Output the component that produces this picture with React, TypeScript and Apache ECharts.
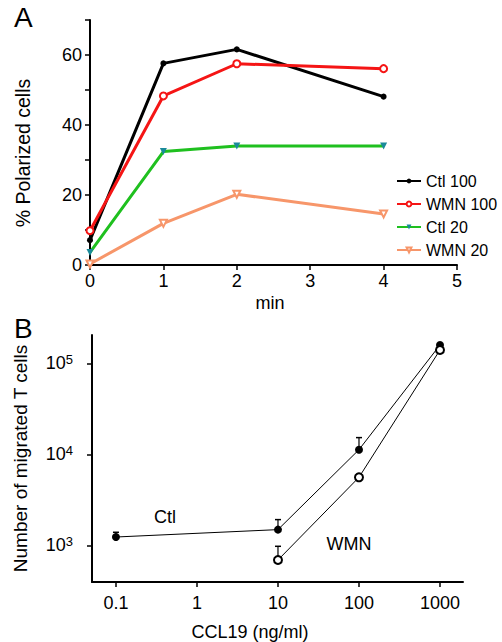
import React, { useEffect, useRef } from "react";
import * as echarts from "echarts";

// Panel A: % polarized cells over time (min)
const timeMin = [0, 1, 2, 4];
const ctl100 = [7.1, 57.6, 61.6, 48.1];
const wmn100 = [9.8, 48.3, 57.5, 56.1];
const ctl20 = [3.6, 32.4, 34.0, 34.0];
const wmn20 = [0.3, 11.9, 20.2, 14.6];
const seriesNamesA = ["Ctl 100", "WMN 100", "Ctl 20", "WMN 20"];

// Panel B: number of migrated T cells vs CCL19 (ng/ml)
const cclCtl = [0.1, 10, 100, 1000];
const ctlMigrated = [1233, 1487, 11240, 158900];
const ctlErrUpper = [1390, 1915, 15250, null];
const cclWmn = [10, 100, 1000];
const wmnMigrated = [689, 5585, 140000];
const wmnErrUpper = [975, null, null];
const concTicks = [0.1, 1, 10, 100, 1000];
const countTicks = [1000, 10000, 100000];

const FONT = "Liberation Sans";

export default function App() {
  const ref = useRef<HTMLDivElement>(null);
  useEffect(() => {
    if (!ref.current) return;
    const chart = echarts.init(ref.current, undefined, { renderer: "svg" });

    const axisLine = { show: true, lineStyle: { color: "#000", width: 2 } };
    const axisTick = { show: true, inside: false, length: 5, lineStyle: { color: "#000", width: 1.5 } };
    const labelStyle = { color: "#000", fontSize: 18, fontFamily: FONT };

    const errData: number[][] = [];
    cclCtl.forEach((c, i) => {
      const u = ctlErrUpper[i];
      if (u != null) errData.push([c, ctlMigrated[i], u]);
    });
    cclWmn.forEach((c, i) => {
      const u = wmnErrUpper[i];
      if (u != null) errData.push([c, wmnMigrated[i], u]);
    });

    const option: any = {
      animation: false,
      backgroundColor: "#fff",
      textStyle: { fontFamily: FONT },
      grid: [
        { left: 90, top: 20, width: 367, height: 245, containLabel: false },
        { left: 92, top: 335, width: 371, height: 247, containLabel: false },
      ],
      xAxis: [
        {
          gridIndex: 0,
          type: "value",
          min: 0,
          max: 5,
          interval: 1,
          axisLine,
          axisTick,
          splitLine: { show: false },
          axisLabel: { ...labelStyle, margin: 7 },
        },
        {
          gridIndex: 1,
          type: "log",
          logBase: 10,
          min: 0.0506,
          max: 1923,
          axisLine,
          axisTick: { ...axisTick, customValues: concTicks },
          splitLine: { show: false },
          axisLabel: {
            ...labelStyle,
            margin: 12,
            customValues: concTicks,
            formatter: (v: number) => String(v),
          },
        },
      ],
      yAxis: [
        {
          gridIndex: 0,
          type: "value",
          min: 0,
          max: 70,
          interval: 10,
          axisLine,
          axisTick,
          splitLine: { show: false },
          axisLabel: {
            ...labelStyle,
            margin: 8,
            formatter: (v: number) => (v % 20 === 0 ? String(v) : ""),
          },
        },
        {
          gridIndex: 1,
          type: "log",
          logBase: 10,
          min: 395,
          max: 204600,
          axisLine,
          axisTick: { ...axisTick, customValues: countTicks },
          splitLine: { show: false },
          axisLabel: {
            ...labelStyle,
            margin: 19,
            customValues: countTicks,
            formatter: (v: number) => `{b|10}{s|${Math.round(Math.log10(v))}}`,
            rich: {
              b: { fontSize: 18, fontFamily: FONT, color: "#000" },
              s: { fontSize: 13, fontFamily: FONT, color: "#000", padding: [0, 0, 8, 0] },
            },
          },
          name: "Number of migrated T cells",
          nameLocation: "middle",
          nameGap: 62,
          nameTextStyle: { color: "#000", fontSize: 19, fontFamily: FONT },
        },
      ],
      legend: {
        data: seriesNamesA,
        orient: "vertical",
        left: 391,
        top: 168,
        itemWidth: 24,
        itemHeight: 6,
        itemGap: 7,
        textStyle: { color: "#000", fontSize: 16, fontFamily: FONT },
      },
      series: [
        {
          name: "Ctl 100",
          type: "line",
          xAxisIndex: 0,
          yAxisIndex: 0,
          data: timeMin.map((t, i) => [t, ctl100[i]]),
          symbol: "circle",
          symbolSize: 6,
          lineStyle: { color: "#000", width: 3 },
          itemStyle: { color: "#000" },
        },
        {
          name: "WMN 100",
          type: "line",
          xAxisIndex: 0,
          yAxisIndex: 0,
          data: timeMin.map((t, i) => [t, wmn100[i]]),
          symbol: "emptyCircle",
          symbolSize: 7,
          lineStyle: { color: "#f51515", width: 3 },
          itemStyle: { color: "#f51515", borderWidth: 1 },
        },
        {
          name: "Ctl 20",
          type: "line",
          xAxisIndex: 0,
          yAxisIndex: 0,
          data: timeMin.map((t, i) => [t, ctl20[i]]),
          symbol: "triangle",
          symbolRotate: 180,
          symbolSize: 7,
          lineStyle: { color: "#1fc01f", width: 3 },
          itemStyle: { color: "#1a8a9a" },
        },
        {
          name: "WMN 20",
          type: "line",
          xAxisIndex: 0,
          yAxisIndex: 0,
          data: timeMin.map((t, i) => [t, wmn20[i]]),
          symbol: "emptyTriangle",
          symbolRotate: 180,
          symbolSize: 7,
          lineStyle: { color: "#f7966a", width: 3 },
          itemStyle: { color: "#f7966a", borderWidth: 1 },
        },
        {
          name: "errB",
          type: "custom",
          xAxisIndex: 1,
          yAxisIndex: 1,
          data: errData,
          z: 1,
          renderItem: (params: any, api: any) => {
            const x = api.value(0);
            const lo = api.coord([x, api.value(1)]);
            const hi = api.coord([x, api.value(2)]);
            return {
              type: "group",
              children: [
                { type: "line", shape: { x1: lo[0], y1: lo[1], x2: hi[0], y2: hi[1] }, style: { stroke: "#000", lineWidth: 1.2 } },
                { type: "line", shape: { x1: hi[0] - 3, y1: hi[1], x2: hi[0] + 3, y2: hi[1] }, style: { stroke: "#000", lineWidth: 1.5 } },
              ],
            };
          },
        },
        {
          name: "Ctl",
          type: "line",
          xAxisIndex: 1,
          yAxisIndex: 1,
          z: 3,
          data: cclCtl.map((c, i) => [c, ctlMigrated[i]]),
          symbol: "circle",
          symbolSize: 8,
          lineStyle: { color: "#000", width: 1 },
          itemStyle: { color: "#000" },
        },
        {
          name: "WMN",
          type: "line",
          xAxisIndex: 1,
          yAxisIndex: 1,
          z: 3,
          data: cclWmn.map((c, i) => [c, wmnMigrated[i]]),
          symbol: "emptyCircle",
          symbolSize: 8,
          lineStyle: { color: "#000", width: 1 },
          itemStyle: { color: "#000", borderWidth: 1 },
        },
      ],
      graphic: [
        { type: "text", left: 14, top: 3, style: { text: "A", fontSize: 28, fontFamily: FONT, fill: "#000" } },
        { type: "text", left: 14, top: 314, style: { text: "B", fontSize: 28, fontFamily: FONT, fill: "#000" } },
        {
          type: "text",
          x: 23,
          y: 153,
          rotation: Math.PI / 2,
          style: { text: "% Polarized cells", fontSize: 19.5, fontFamily: FONT, fill: "#000", align: "center", verticalAlign: "middle" },
        },
        { type: "text", x: 270, y: 303, style: { text: "min", fontSize: 18, fontFamily: FONT, fill: "#000", align: "center", verticalAlign: "middle" } },
        { type: "text", x: 250, y: 632, style: { text: "CCL19 (ng/ml)", fontSize: 18, fontFamily: FONT, fill: "#000", align: "center", verticalAlign: "middle" } },
        { type: "text", x: 165, y: 517, style: { text: "Ctl", fontSize: 18, fontFamily: FONT, fill: "#000", align: "center", verticalAlign: "middle" } },
        { type: "text", x: 349, y: 544, style: { text: "WMN", fontSize: 18, fontFamily: FONT, fill: "#000", align: "center", verticalAlign: "middle" } },
      ],
    };
    chart.setOption(option);
    return () => chart.dispose();
  }, []);
  return (
    <div
      ref={ref}
      style={{ position: "fixed", left: 0, top: 0, width: 502, height: 642, background: "#fff" }}
    />
  );
}
